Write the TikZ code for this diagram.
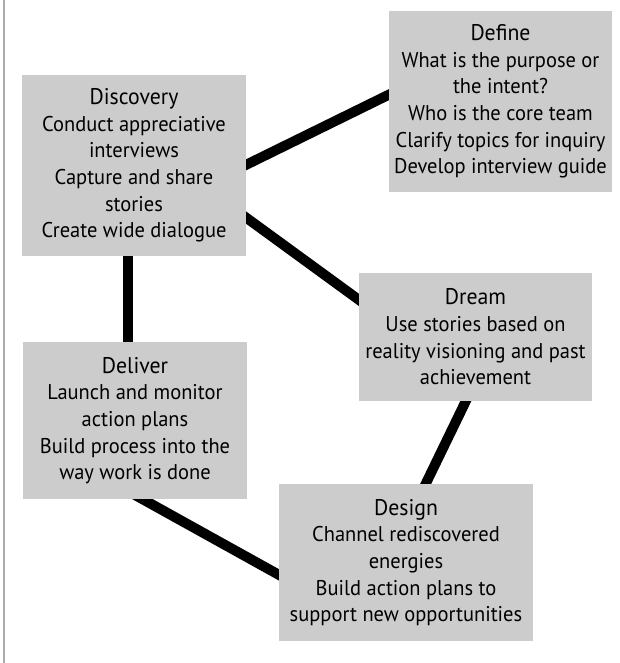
\documentclass[tikz,border=0pt]{standalone}
\usepackage{fontspec}
\setmainfont{PT Sans}[FakeStretch=0.96]
\usetikzlibrary{backgrounds,calc}
\definecolor{boxgray}{RGB}{204,204,204}
\definecolor{rulegray}{RGB}{170,170,170}
\newcommand{\ttl}[1]{{\fontsize{17}{21}\selectfont #1}}
\begin{document}
\begin{tikzpicture}[x=0.75pt,y=-0.75pt,
  box/.style={fill=boxgray, draw=none, align=center, inner sep=0pt,
    font=\fontsize{16}{20}\selectfont},
  link/.style={line width=7.5pt, shorten <=-8pt, shorten >=-8pt}]
\useasboundingbox (0,0) rectangle (619,663);
\draw[rulegray, line width=1.5pt] (4,0) -- (4,663);

\node[box, minimum width=168pt, minimum height=135.75pt] (disc) at (134,165.5)
  {\ttl{Discovery}\\Conduct appreciative\\interviews\\Capture and share\\stories\\Create wide dialogue};
\node[box, minimum width=167.25pt, minimum height=135.75pt] (def) at (500.5,101.5)
  {\ttl{Define}\\What is the purpose or\\the intent?\\Who is the core team\\Clarify topics for inquiry\\Develop interview guide};
\node[box, minimum width=174.75pt, minimum height=96pt] (dream) at (475.5,337)
  {\ttl{Dream}\\Use stories based on\\reality visioning and past\\achievement};
\node[box, minimum width=168pt, minimum height=117.75pt] (deliver) at (135,420.5)
  {\ttl{Deliver}\\Launch and monitor\\action plans\\Build process into the\\way work is done};
\node[box, minimum width=190.5pt, minimum height=117.75pt] (design) at (406,562.5)
  {\ttl{Design}\\Channel rediscovered\\energies\\Build action plans to\\support new opportunities};

\begin{scope}[on background layer]
\draw[link] ($(disc.north east)+(0,90)$) -- ($(def.north west)+(0,84)$);
\draw[link] ($(disc.north east)+(0,143)$) -- ($(dream.north west)+(0,27)$);
\draw[link] ($(disc.south west)+(106,0)$) -- ($(deliver.north west)+(105,0)$);
\draw[link] ($(dream.south west)+(107,0)$) -- ($(design.north west)+(147,0)$);
\draw[link] ($(deliver.south west)+(120,0)$) -- ($(design.north west)+(0,91)$);
\end{scope}
\end{tikzpicture}
\end{document}
